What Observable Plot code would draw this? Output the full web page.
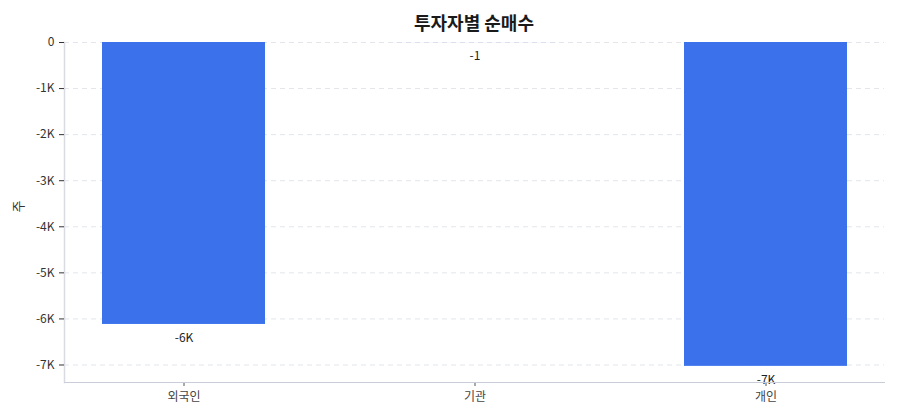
<!DOCTYPE html>
<html><head><meta charset="utf-8">
<script src="https://cdn.jsdelivr.net/npm/d3@7"></script>
<script src="https://cdn.jsdelivr.net/npm/@observablehq/plot@0.6"></script>
<style>
body{margin:0;background:#fff;font-family:"Noto Sans CJK KR","Noto Sans",sans-serif;}
#title{position:relative;z-index:2;height:30px;box-sizing:border-box;padding:8px 16px 0 64px;line-height:28px;text-align:center;font-size:18px;font-weight:700;color:#1a1a1a;overflow:visible;}
#chart svg{background:transparent;overflow:visible;}
</style></head>
<body>
<div id="title">투자자별 순매수</div>
<div id="chart"></div>
<script>
const investors = ["외국인", "기관", "개인"];
const netBuy = [-6120, -1, -7030];
const yTicks = [0, -1000, -2000, -3000, -4000, -5000, -6000, -7000];
const yLabel = "주";

const data = investors.map((k, i) => ({investor: k, value: netBuy[i]}));
const fmtTick = d => d === 0 ? "0" : (d / 1000) + "K";
const fmtVal = v => Math.abs(v) >= 1000 ? Math.round(v / 1000) + "K" : String(v);

const chart = Plot.plot({
  width: 900,
  height: 390,
  marginTop: 12,
  marginBottom: 38,
  marginLeft: 64,
  marginRight: 16,
  style: {fontFamily: '"Noto Sans CJK KR","Noto Sans",sans-serif', fontSize: "12px", background: "transparent", overflow: "visible"},
  x: {domain: investors, paddingInner: 0.44, paddingOuter: 0.127, label: null},
  y: {domain: [-7380, 0], label: null},
  marks: [
    Plot.gridY(yTicks, {stroke: "#e3e5ea", strokeOpacity: 1, strokeDasharray: "5,4"}),
    Plot.barY(data, {x: "investor", y: "value", fill: "#3b72ec"}),
    Plot.text(data, {x: "investor", y: "value", text: d => fmtVal(d.value), dy: 14, fill: "#222", fontSize: 12}),
    Plot.frame({anchor: "left", stroke: "#d9dbe2", strokeWidth: 1.5}),
    Plot.axisY({ticks: yTicks, tickFormat: fmtTick, tickSize: 5, tickPadding: 5, fill: "#333", stroke: "#333", label: null}),
    Plot.axisX({tickSize: 4, tickPadding: 6, fill: "#444", stroke: "#555", label: null}),
    Plot.frame({anchor: "bottom", stroke: "#c8cdd8", strokeWidth: 1}),
    Plot.text([yLabel], {frameAnchor: "left", dx: -46, rotate: -90, fill: "#333", fontSize: 13})
  ]
});
document.getElementById("chart").appendChild(chart);
</script>
</body></html>
